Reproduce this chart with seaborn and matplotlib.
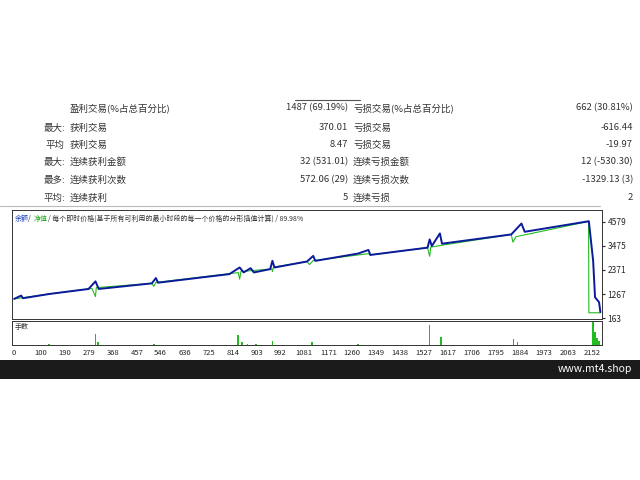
import matplotlib
matplotlib.use("Agg")
import matplotlib.pyplot as plt
import seaborn as sns
import pandas as pd

sns.set_style("white")
plt.rcParams['font.family'] = ['Noto Sans CJK SC', 'DejaVu Sans']

# ---- data ----
row_labels1 = ["", "最大:", "平均", "最大:", "最多:", "平均:"]
row_names1 = ["盈利交易(%占总百分比)", "获利交易", "获利交易", "连续获利金额", "连续获利次数", "连续获利"]
row_values1 = ["1487 (69.19%)", "370.01", "8.47", "32 (531.01)", "572.06 (29)", "5"]
row_names2 = ["亏损交易(%占总百分比)", "亏损交易", "亏损交易", "连续亏损金额", "连续亏损次数", "连续亏损"]
row_values2 = ["662 (30.81%)", "-616.44", "-19.97", "12 (-530.30)", "-1329.13 (3)", "2"]

bal_x = [0, 26, 33, 132, 277, 303, 315, 513, 528, 536, 802, 840, 855, 881, 893, 954, 962, 970,
         1091, 1114, 1122, 1281, 1320, 1327, 1540, 1548, 1556, 1586, 1594, 1852, 1890, 1902,
         2141, 2157, 2164, 2179, 2184]
bal_y = [1043, 1195, 1074, 1271, 1499, 1848, 1499, 1757, 2000, 1787, 2182, 2486, 2258, 2455, 2258,
         2410, 2790, 2486, 2760, 3017, 2790, 3124, 3290, 3062, 3396, 3775, 3472, 4049, 3578,
         4003, 4504, 4125, 4610, 2790, 1119, 891, 436]
eq_x = [0, 132, 290, 303, 306, 513, 520, 528, 835, 840, 845, 960, 962, 966, 1091, 1100, 1114,
        1320, 1327, 1540, 1548, 1552, 1600, 1852, 1858, 1870, 2140, 2141, 2184]
eq_y = [1043, 1271, 1520, 1150, 1560, 1757, 1620, 1800, 2250, 1950, 2300, 2420, 2300, 2500,
        2760, 2620, 2800, 3120, 3062, 3396, 3000, 3420, 3520, 4003, 3650, 3900, 4600, 406, 406]
vol_x = [130, 303, 312, 520, 835, 848, 870, 900, 962, 1110, 1281, 1548, 1590, 1860, 1875, 2157, 2165, 2172, 2179]
vol_y = [1, 8, 2, 1, 7, 2, 1, 1, 3, 2, 1, 14, 6, 4, 2, 16, 9, 5, 3]
yticks = [163, 1267, 2371, 3475, 4579]
xticks = [0, 100, 190, 279, 368, 457, 546, 636, 725, 814, 903, 992, 1081, 1171, 1260, 1349,
          1438, 1527, 1617, 1706, 1795, 1884, 1973, 2063, 2152]

W, H = 640, 480
fig = plt.figure(figsize=(6.4, 4.8), dpi=100)
fig.patch.set_facecolor("white")

def fx(px): return px / W
def fy(py): return 1 - py / H

fs = 6.8
fig.add_artist(plt.Line2D([fx(295), fx(360)], [fy(100), fy(100)], color="#555", lw=0.8))
rows_y = [108, 128, 145, 162, 180, 198]
for i, y in enumerate(rows_y):
    fig.text(fx(65), fy(y), row_labels1[i], ha="right", va="center", fontsize=fs, color="#333")
    fig.text(fx(70), fy(y), row_names1[i], ha="left", va="center", fontsize=fs, color="#333")
    fig.text(fx(348), fy(y), row_values1[i], ha="right", va="center", fontsize=fs, color="#333")
    fig.text(fx(353), fy(y), row_names2[i], ha="left", va="center", fontsize=fs, color="#333")
    fig.text(fx(633), fy(y), row_values2[i], ha="right", va="center", fontsize=fs, color="#333")
fig.add_artist(plt.Line2D([fx(0), fx(600)], [fy(206), fy(206)], color="#bbb", lw=0.8))

# main chart
ax = fig.add_axes([fx(12), fy(319), fx(590), (319 - 210) / H])
sns.lineplot(x=eq_x, y=eq_y, ax=ax, color="#22bb22", lw=0.8)
sns.lineplot(x=bal_x, y=bal_y, ax=ax, color="#0a1a9a", lw=1.4)
ax.set_xlim(-8, 2190)
ax.set_ylim(120, 5125)
ax.yaxis.tick_right()
ax.set_yticks(yticks)
ax.set_yticklabels([str(v) for v in yticks], fontsize=6)
ax.set_xticks([])
ax.tick_params(axis="y", length=2, pad=2)
for s in ax.spines.values():
    s.set_color("#333"); s.set_linewidth(0.7)
ty = 0.92
ax.text(0.004, ty, "余额", color="#1a3fbf", fontsize=5, transform=ax.transAxes, va="center")
ax.text(0.027, ty, "/", color="#333", fontsize=5, transform=ax.transAxes, va="center")
ax.text(0.036, ty, "净值", color="#22aa22", fontsize=5, transform=ax.transAxes, va="center")
ax.text(0.061, ty, "/ 每个即时价格(基于所有可利用的最小时段的每一个价格的分形插值计算) / 89.98%",
        color="#333", fontsize=5, transform=ax.transAxes, va="center")

# volume
axv = fig.add_axes([fx(12), fy(345), fx(590), (345 - 321) / H])
axv.bar(vol_x, vol_y, width=6, color="#22bb22", linewidth=0, zorder=3, antialiased=False)
axv.set_xlim(-8, 2190)
axv.set_ylim(0, 17)
axv.set_yticks([])
axv.set_xticks(xticks)
axv.set_xticklabels([str(v) for v in xticks], fontsize=5.5)
axv.tick_params(axis="x", length=2, pad=1)
for s in axv.spines.values():
    s.set_color("#333"); s.set_linewidth(0.7)
axv.text(0.005, 0.75, "手数", fontsize=5, color="#333", transform=axv.transAxes, va="center")

# black band
band = fig.add_axes([0, fy(379), 1, (379 - 360) / H])
band.set_facecolor("#1b1b1b")
band.set_xticks([]); band.set_yticks([])
for s in band.spines.values():
    s.set_visible(False)
band.text(0.988, 0.5, "www.mt4.shop", color="white", fontsize=7.5, ha="right", va="center",
          transform=band.transAxes)

fig.savefig("out.png", dpi=100)
